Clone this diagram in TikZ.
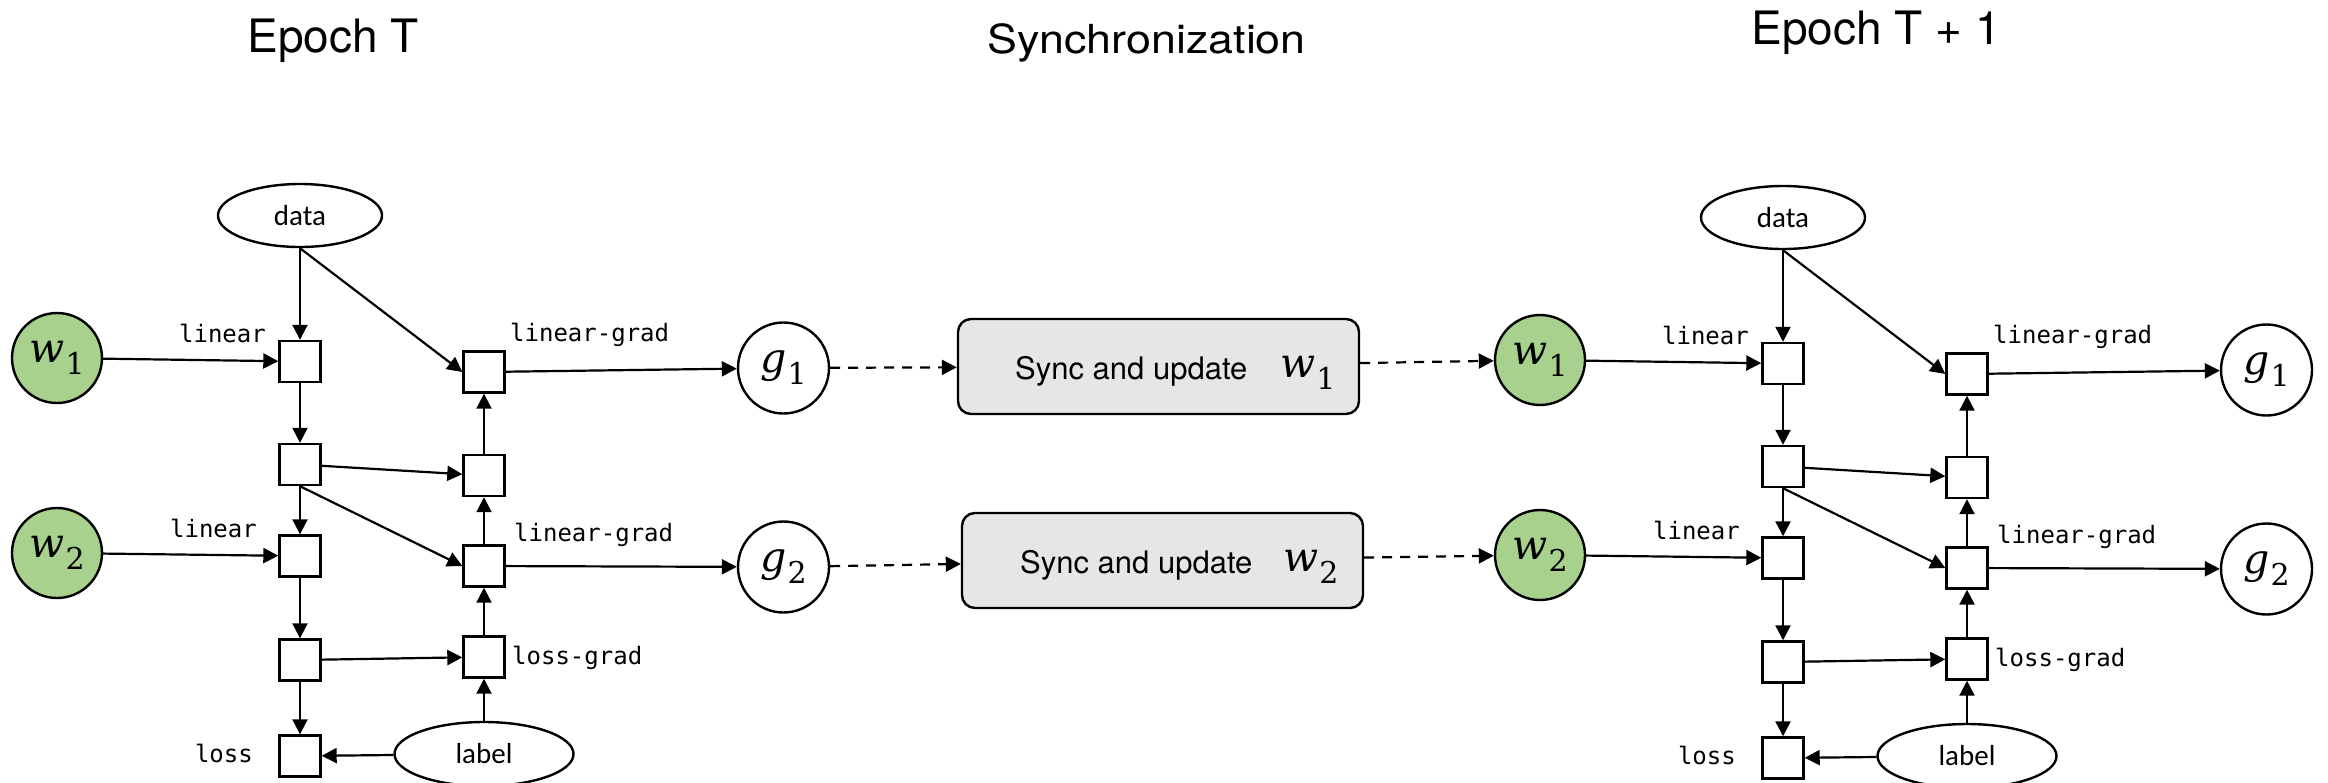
\documentclass[tikz,border=0pt]{standalone}
\usepackage{fontspec}
\setmainfont{TeX Gyre Heros}
\newfontfamily\codefont{DejaVu Sans Mono}
\newfontfamily\tagfont{Carlito}
\newfontfamily\varfont{DejaVu Serif}
\usetikzlibrary{arrows.meta,shapes.geometric}

\definecolor{wgreen}{RGB}{169,209,142}
\definecolor{syncgray}{RGB}{230,230,230}

% an italic variable with a lowered index
\newcommand\varidx[2]{{\varfont\itshape\fontsize{41}{45}\selectfont #1}\kern1pt\raisebox{-12pt}{\varfont\fontsize{30}{34}\selectfont #2}}

\tikzset{
  op/.style={draw, line width=2.4pt, fill=white, minimum size=41pt, inner sep=0pt},
  io/.style={draw, ellipse, line width=2.4pt, fill=white, inner sep=0pt,
    minimum width=164pt, minimum height=63pt, font=\tagfont\fontsize{29}{33}\selectfont},
  wnode/.style={draw, circle, line width=2.4pt, fill=wgreen, minimum size=90pt, inner sep=0pt},
  gnode/.style={draw, circle, line width=2.4pt, fill=white, minimum size=91pt, inner sep=0pt},
  optag/.style={inner sep=0pt, font=\codefont\fontsize{24}{28}\selectfont},
  flow/.style={line width=2.2pt, -{Triangle[length=15pt,width=15pt]}},
  syncflow/.style={flow, dash pattern=on 10pt off 8pt},
  syncbox/.style={draw, line width=2.4pt, fill=syncgray, rounded corners=13pt,
    minimum width=401pt, minimum height=95pt},
  synctext/.style={anchor=base west, inner sep=0pt, font=\fontsize{31}{37}\selectfont},
  syncw/.style={anchor=base west, inner sep=0pt},
  title/.style={inner sep=0pt, anchor=base},
}

\begin{document}
\begin{tikzpicture}[x=1pt,y=-1pt]
\fill[white] (0,0) rectangle (2328,782);
\useasboundingbox (0,0) rectangle (2328,782);

% headings
\node[title, font=\fontsize{46}{55}\selectfont] (epochT) at (333,52) {Epoch T};
\node[title, font=\fontsize{40}{48}\selectfont] (synctitle) at (1146.5,53) {\scalebox{1.12}[1]{Synchronization}};
\node[title, font=\fontsize{46}{55}\selectfont] (epochT1) at (1876,44) {Epoch T + 1};

% forward/backward graph of one epoch, drawn twice
\foreach \p/\dx/\dy in {L/0/0, R/1483/2} {
\begin{scope}[shift={(\dx,\dy)}]
  \node[io] (\p-data) at (300,215.5) {data};
  \node[wnode] (\p-w1) at (57,358) {\varidx{w}{1}};
  \node[wnode] (\p-w2) at (57,553) {\varidx{w}{2}};
  \node[op] (\p-b1) at (300,361.5) {};
  \node[op] (\p-b2) at (300,464.5) {};
  \node[op] (\p-b3) at (300,556) {};
  \node[op] (\p-b4) at (300,660) {};
  \node[op] (\p-loss) at (300,756) {};
  \node[op] (\p-lg1) at (484,372) {};
  \node[op] (\p-mid) at (484,475.5) {};
  \node[op] (\p-lg2) at (484,566) {};
  \node[op] (\p-lgr) at (484,657) {};
  \node[io, minimum width=179pt, minimum height=64pt] (\p-label) at (484,754) {label};
  \node[gnode] (\p-g1) at (783.5,368) {\varidx{g}{1}};
  \node[gnode] (\p-g2) at (783.5,567) {\varidx{g}{2}};

  \node[optag, anchor=base east] (\p-t1) at (266,342) {linear};
  \node[optag, anchor=base east] (\p-t3) at (257,537) {linear};
  \node[optag, anchor=base west] (\p-t4) at (510,341) {linear-grad};
  \node[optag, anchor=base west] (\p-t5) at (514,541) {linear-grad};
  \node[optag, anchor=base west] (\p-t6) at (512,664) {loss-grad};
  \node[optag, anchor=base east] (\p-t7) at (253,762) {loss};

  \draw[flow] (\p-data) -- (\p-b1);
  \draw[flow] (\p-data.south) -- (\p-lg1.west);
  \draw[flow] (\p-w1) -- (\p-b1);
  \draw[flow] (\p-b1) -- (\p-b2);
  \draw[flow] (\p-b2) -- (\p-b3);
  \draw[flow] (\p-b3) -- (\p-b4);
  \draw[flow] (\p-b4) -- (\p-loss);
  \draw[flow] (\p-b2) -- (\p-mid);
  \draw[flow] (\p-b2.south) -- (\p-lg2.west);
  \draw[flow] (\p-w2) -- (\p-b3);
  \draw[flow] (\p-b4) -- (\p-lgr);
  \draw[flow] (\p-label) -- (\p-loss);
  \draw[flow] (\p-label) -- (\p-lgr);
  \draw[flow] (\p-lgr) -- (\p-lg2);
  \draw[flow] (\p-lg2) -- (\p-mid);
  \draw[flow] (\p-mid) -- (\p-lg1);
  \draw[flow] (\p-lg1) -- (\p-g1);
  \draw[flow] (\p-lg2) -- (\p-g2);
\end{scope}
}

% synchronization step
\node[syncbox] (s1) at (1158.5,366.5) {};
\node[synctext] (s1txt) at (1015,379) {Sync and update};
\node[syncw] (s1w) at (1280,377) {\varidx{w}{1}};
\node[syncbox] (s2) at (1162.5,560.5) {};
\node[synctext] (s2txt) at (1020,573) {Sync and update};
\node[syncw] (s2w) at (1283,571) {\varidx{w}{2}};

\draw[syncflow] (L-g1) -- (s1);
\draw[syncflow] (s1) -- (R-w1);
\draw[syncflow] (L-g2) -- (s2);
\draw[syncflow] (s2) -- (R-w2);
\end{tikzpicture}
\end{document}
